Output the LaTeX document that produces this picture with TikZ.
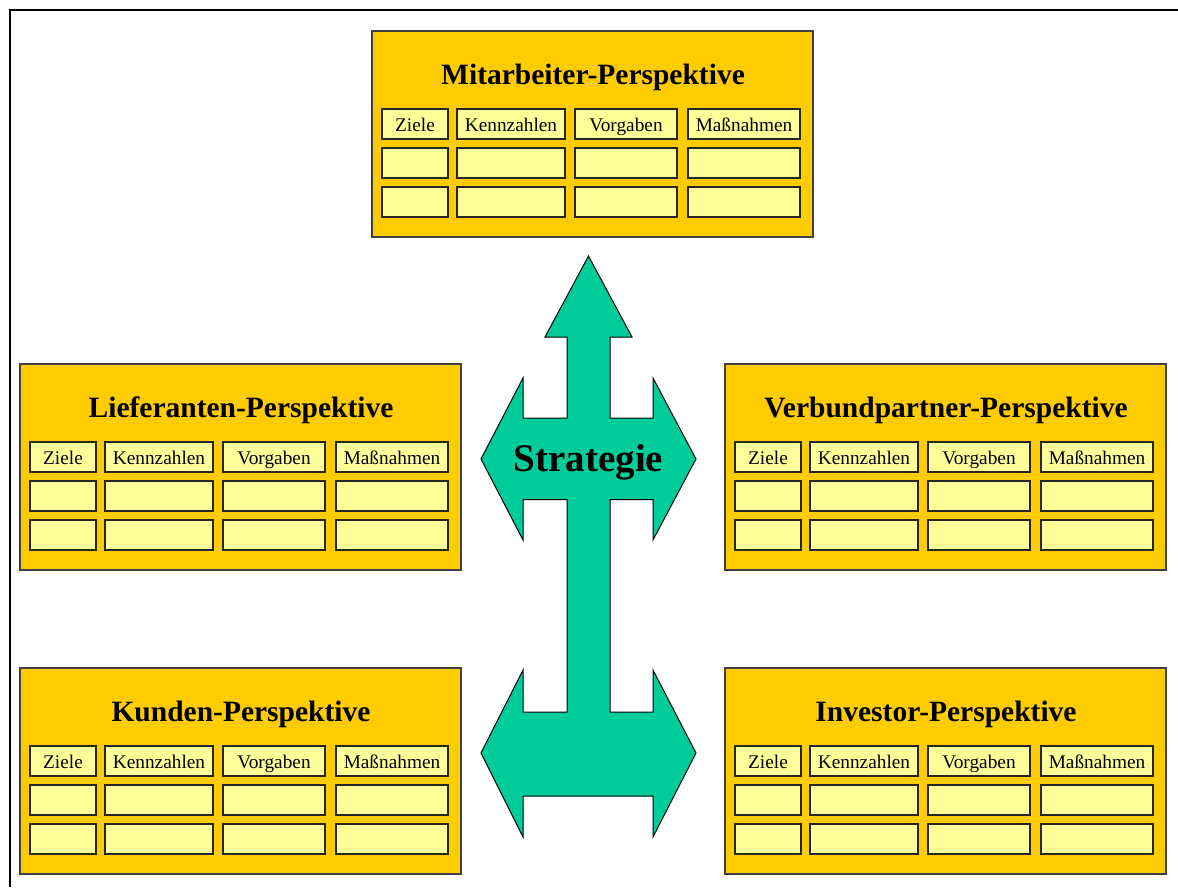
\documentclass[tikz,border=0pt]{standalone}
\usepackage{fontspec}
\setmainfont{Liberation Serif}
\definecolor{boxyellow}{HTML}{FFCC00}
\definecolor{cellyellow}{HTML}{FFFF99}
\definecolor{stratgreen}{HTML}{00CC99}
\tikzset{
  persp/.style={draw=black!75, fill=boxyellow, line width=1.2pt, minimum width=441pt, minimum height=206pt, anchor=north west, inner sep=0pt, outer sep=0pt},
  cellbox/.style={draw=black!85, fill=cellyellow, line width=1.2pt, anchor=north west, minimum height=30pt, inner sep=0pt, outer sep=0pt},
  ptitle/.style={font=\bfseries\fontsize{29.5}{30}\selectfont, anchor=base, inner sep=0pt},
  celltext/.style={font=\fontsize{19.3}{20}\selectfont, anchor=base, inner sep=0pt},
  stratarrow/.style={draw=black, fill=stratgreen, line width=1pt, line join=miter},
  frameline/.style={draw=black, line width=2pt},
}
\newcommand\Persp[4]{%
  \node[persp] (#1) at (#2,#3) {};
  \node[ptitle] (#1-t) at (#2+221,#3+53) {#4};
  \foreach \c/\l/\w/\txt in {1/10/66/Ziele,2/85/108/Kennzahlen,3/203/102/Vorgaben,4/316/112/Maßnahmen}{
    \foreach \r/\t in {1/78,2/117,3/156}{
      \node[cellbox, minimum width=\w pt] (#1-\r-\c) at (#2+\l,#3+\t) {};
    }
    \node[celltext] (#1-h-\c) at (#2+\l+\w/2,#3+100) {\txt};
  }%
}
\begin{document}
\begin{tikzpicture}[x=1pt,y=-1pt]
\useasboundingbox (0,0) rectangle (1178,887);
\fill[white] (0,0) rectangle (1178,887);
\coordinate (fbl) at (10,887);
\coordinate (ftl) at (10,10);
\coordinate (ftr) at (1178,10);
\draw[frameline] (fbl) -- (ftl) -- (ftr);

\Persp{mit}{372}{31}{Mitarbeiter-Perspektive}
\Persp{lief}{20}{364}{Lieferanten-Perspektive}
\Persp{verb}{725}{364}{Verbundpartner-Perspektive}
\Persp{kund}{20}{668}{Kunden-Perspektive}
\Persp{inv}{725}{668}{Investor-Perspektive}

\draw[stratarrow] (588.5,256) -- (632,337) -- (610,337) -- (610,418) -- (653,418) -- (653,378)
  -- (696,459) -- (653,540) -- (653,499.5) -- (610,499.5) -- (610,712) -- (653,712) -- (653,670)
  -- (696,753) -- (653,837) -- (653,796) -- (523,796) -- (523,837) -- (481,753) -- (523,670)
  -- (523,712) -- (567,712) -- (567,499.5) -- (523,499.5) -- (523,540) -- (481,459) -- (523,378)
  -- (523,418) -- (567,418) -- (567,337) -- (545,337) -- cycle;
\node[font=\bfseries\fontsize{39}{40}\selectfont, anchor=base, inner sep=0pt] (strat) at (588.5,471) {Strategie};
\end{tikzpicture}
\end{document}
